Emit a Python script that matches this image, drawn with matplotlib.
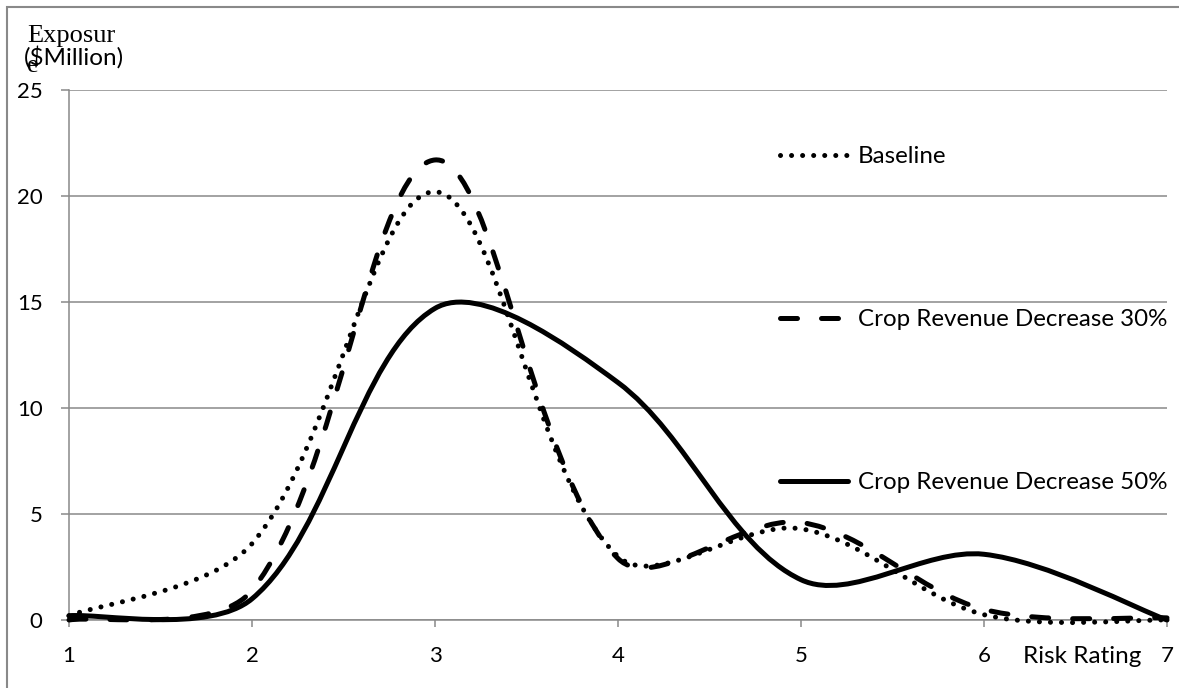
import numpy as np
import matplotlib.pyplot as plt
from matplotlib.path import Path
from matplotlib.patches import PathPatch, Rectangle
from matplotlib.lines import Line2D

risk = [1, 2, 3, 4, 5, 6, 7]
baseline = [0.2, 3.6, 20.2, 3.0, 4.3, 0.25, 0.0]
drop30 = [0.0, 1.4, 21.7, 2.9, 4.6, 0.5, 0.1]
drop50 = [0.2, 1.0, 14.7, 11.2, 1.9, 3.1, 0.0]

labels = ["Baseline", "Crop Revenue Decrease 30%", "Crop Revenue Decrease 50%"]
y_ticks = [0, 5, 10, 15, 20, 25]

SANS = "Lato"
grey = "#898989"
W, H = 1179, 688


def smooth_path(ax, xs, ys):
    # bezier through the points, like the "smoothed line" option of a spreadsheet
    disp = ax.transData.transform(np.column_stack([xs, ys]).astype(float))
    n = len(disp)
    verts = [disp[0]]
    codes = [Path.MOVETO]
    for i in range(n - 1):
        p0 = disp[max(i - 1, 0)]
        p1 = disp[i]
        p2 = disp[i + 1]
        p3 = disp[min(i + 2, n - 1)]
        d12 = np.hypot(*(p2 - p1))
        d01 = np.hypot(*(p1 - p0)) if i > 0 else d12
        d23 = np.hypot(*(p3 - p2)) if i + 2 < n else d12
        f1 = 2 * d12 / (d01 + d12)
        f2 = 2 * d12 / (d12 + d23)
        c1 = p1 + (p2 - p0) / 6 * f1
        c2 = p2 - (p3 - p1) / 6 * f2
        verts += [c1, c2, p2]
        codes += [Path.CURVE4] * 3
    verts = ax.transData.inverted().transform(np.array(verts))
    return Path(verts, codes)


fig = plt.figure(figsize=(W / 100, H / 100), dpi=100)
ax = fig.add_axes([69 / W, 1 - 620 / H, 1098 / W, 530 / H])

ax.set_xlim(1, 7)
ax.set_ylim(0, 25)

dot = (0, (0.01, 2.2))
dash = (0, (3.4, 4.8))
styles = [dot, dash, "-"]

for ys, ls in zip([baseline, drop30, drop50], styles):
    p = PathPatch(smooth_path(ax, risk, ys), fill=False, edgecolor="black",
                  lw=3.6, linestyle=ls, capstyle="round", joinstyle="round",
                  clip_on=False, zorder=3)
    ax.add_patch(p)

ax.spines["right"].set_visible(False)
ax.spines["top"].set_visible(False)
ax.spines["left"].set_color(grey)
ax.spines["bottom"].set_color(grey)
ax.spines["left"].set_linewidth(1.1)
ax.spines["bottom"].set_linewidth(1.1)

ax.set_yticks(y_ticks)
ax.set_xticks(risk)
ax.yaxis.grid(True, color=grey, lw=1.1)
ax.set_axisbelow(True)
ax.tick_params(axis="y", length=6, width=1.1, color=grey, pad=13, labelsize=16)
ax.tick_params(axis="x", length=5, width=1.1, color=grey, pad=14, labelsize=16)
for t in ax.get_xticklabels() + ax.get_yticklabels():
    t.set_fontfamily(SANS)

handles = [Line2D([], [], color="black", lw=3.6, linestyle=ls,
                  dash_capstyle="round", solid_capstyle="round")
           for ls in styles]
ax.legend(handles, labels, loc="upper left",
          bbox_to_anchor=((780 - 69) / 1098, (620 - 146) / 530),
          frameon=False, borderpad=0, borderaxespad=0,
          handlelength=2.8, handletextpad=0.42, labelspacing=5.88,
          prop={"family": SANS, "size": 17.4})

fig.text(27 / W, 1 - 42 / H, "Exposur", family="Liberation Serif", size=19,
         va="baseline")
fig.text(27 / W, 1 - 72 / H, "e", family="Liberation Serif", size=19,
         va="baseline")
fig.text(24 / W, 1 - 65 / H, "($Million)", family=SANS, size=17.5,
         va="baseline")
fig.text(1023 / W, 1 - 663 / H, "Risk Rating", family=SANS, size=17.5,
         va="baseline")

fig.patches.append(Rectangle((7 / W, -0.05), 1.1, 1 - 7 / H + 0.05,
                             transform=fig.transFigure, fill=False,
                             edgecolor=grey, lw=1.5))

plt.savefig("out.png", dpi=100)
